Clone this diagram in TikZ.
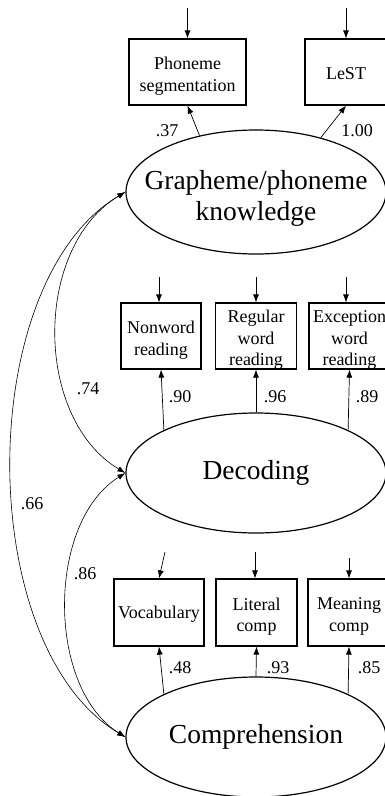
\documentclass[tikz,border=0pt]{standalone}
\usepackage{fontspec}
\setmainfont{Liberation Serif}
\usetikzlibrary{shapes.geometric,arrows.meta}
\begin{document}
\begin{tikzpicture}[x=1pt,y=-1pt,
  obs/.style={draw,line width=1.2pt,rectangle,inner sep=0pt,minimum height=66pt},
  obstext/.style={align=center,inner sep=0pt,font=\fontsize{18}{21.5}\selectfont,yshift=-4pt},
  lat/.style={draw,line width=1.2pt,ellipse,inner sep=0pt,minimum width=260pt},
  lattext/.style={align=center,inner sep=0pt,font=\fontsize{27.5}{31}\selectfont},
  arr/.style={line width=0.7pt,-{Latex[length=8pt,width=6pt]}},
  cov/.style={line width=0.6pt,{Latex[length=8pt,width=5.5pt]}-{Latex[length=8pt,width=5.5pt]}},
  lab/.style={font=\fontsize{18}{21}\selectfont,inner sep=0pt}]
\useasboundingbox (0,0) rectangle (385,796);

% observed variables
\node[obs,minimum width=117pt,label={[obstext]center:Phoneme\\segmentation}] (ps) at (187.5,72) {};
\node[obs,minimum width=82pt,label={[obstext,yshift=2pt]center:LeST}] (lest) at (346,72) {};
\node[obs,minimum width=80pt,label={[obstext]center:Nonword\\reading}] (nw) at (161,336) {};
\node[obs,minimum width=81pt,label={[obstext]center:Regular\\word\\reading}] (rw) at (256,336) {};
\node[obs,minimum width=81pt,label={[obstext]center:Exception\\word\\reading}] (ew) at (349.5,336) {};
\node[obs,minimum width=90pt,minimum height=67pt,label={[obstext,yshift=2pt]center:Vocabulary}] (voc) at (159,612.5) {};
\node[obs,minimum width=81pt,minimum height=67pt,label={[obstext]center:Literal\\comp}] (lit) at (256.5,612.5) {};
\node[obs,minimum width=82pt,minimum height=67pt,label={[obstext]center:Meaning\\comp}] (mc) at (349,612.5) {};

% latent variables
\node[lat,minimum height=124pt,label={[lattext,yshift=-6pt]center:Grapheme/phoneme\\knowledge}] (G) at (256,192) {};
\node[lat,minimum height=120pt,label={[lattext]center:Decoding}] (D) at (256,473) {};
\node[lat,minimum height=120pt,label={[lattext]center:Comprehension}] (C) at (256,737) {};

% error terms
\coordinate (e1) at (187.5,8);
\coordinate (e2) at (346,8);
\coordinate (e3) at (159,277);
\coordinate (e4) at (256,277);
\coordinate (e5) at (346,277);
\coordinate (e6) at (165,552);
\coordinate (e7) at (255,552);
\coordinate (e8) at (349,558);
\draw[arr] (e1) -- (ps.north);
\draw[arr] (e2) -- (lest.north);
\draw[arr] (e3) -- (e3 |- nw.north);
\draw[arr] (e4) -- (e4 |- rw.north);
\draw[arr] (e5) -- (e5 |- ew.north);
\draw[arr] (e6) -- (voc.north);
\draw[arr] (e7) -- (e7 |- lit.north);
\draw[arr] (e8) -- (e8 |- mc.north);

% loadings
\draw[arr] (G.135) -- (ps.south);
\draw[arr] (G.40) -- (lest.south);
\draw[arr] (D.155) -- (nw.south);
\draw[arr] (D.north) -- (rw.south);
\draw[arr] (D.25) -- (ew.south);
\draw[arr] (C.155) -- (voc.south);
\draw[arr] (C.north) -- (lit.south);
\draw[arr] (C.25) -- (mc.south);

\node[lab] (l1) at (167,131) {.37};
\node[lab] (l2) at (357,131) {1.00};
\node[lab] (l3) at (180,397) {.90};
\node[lab] (l4) at (275,397) {.96};
\node[lab] (l5) at (367,397) {.89};
\node[lab] (l6) at (180,668) {.48};
\node[lab] (l7) at (278,668) {.93};
\node[lab] (l8) at (369,668) {.85};

% correlations
\draw[cov] (G.west) .. controls +(-92,55) and +(-92,-55) .. (D.west);
\draw[cov] (G.west) .. controls +(-152,90) and +(-152,-90) .. (C.west);
\draw[cov] (D.west) .. controls +(-79,49) and +(-79,-49) .. (C.west);

\node[lab] (l9) at (88,389) {.74};
\node[lab] (l10) at (32,504) {.66};
\node[lab] (l11) at (85,574) {.86};
\end{tikzpicture}
\end{document}
